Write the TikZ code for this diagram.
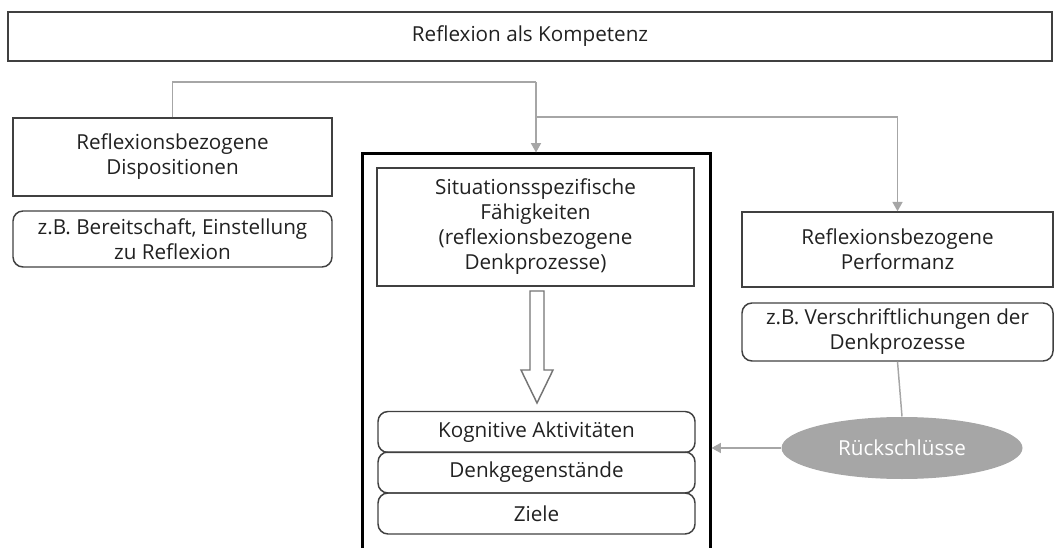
\documentclass[tikz,border=0pt]{standalone}
\usepackage{fontspec}
\setmainfont{Open Sans}
\usetikzlibrary{arrows.meta,shapes.geometric}

\definecolor{boxline}{RGB}{64,64,64}
\definecolor{connline}{RGB}{166,166,166}
\definecolor{txtgray}{RGB}{33,33,33}

\tikzset{every picture/.style={line width=0.75pt}}
\tikzset{
  box/.style={draw=boxline, line width=1.1pt, text=txtgray, align=center, inner sep=0pt, font=\fontsize{15.5}{18.75}\selectfont},
  roundbox/.style={box, rounded corners=7.5pt},
  conn/.style={draw=connline, line width=1.1pt},
  connarrow/.style={conn, -{Triangle[width=7.5pt,length=7pt]}, color=connline},
}

\begin{document}
\begin{tikzpicture}[x=0.75pt,y=0.75pt,yscale=-1,xscale=1]
\useasboundingbox (0,0) rectangle (1055,548);

%Shape: Rectangle [top]
\node [box, minimum width=783pt, minimum height=36.75pt] (komp) at (530,36.5) {Reflexion als Kompetenz};

%Shape: Rectangle [left]
\node [box, minimum width=239.25pt, minimum height=58.5pt] (dispo) at (172.5,157) {Reflexionsbezogene\\Dispositionen};
\node [roundbox, minimum width=239.25pt, minimum height=42pt] (dispoex) at (172.5,239) {z.B. Bereitschaft, Einstellung\\zu Reflexion};

%Shape: Rectangle [middle, thick frame]
\node [draw=black, line width=2.25pt, minimum width=261pt, minimum height=309pt] (frame) at (536,360) {};
\node [box, minimum width=237.75pt, minimum height=88.5pt] (situ) at (535.5,227) {Situationsspezifische\\Fähigkeiten\\(reflexionsbezogene\\Denkprozesse)};

%Shape: Block Arrow
\draw [draw=connline!70!black, line width=1.1pt, fill=white] (530,291) -- (544,291) -- (544,370) -- (553,370) -- (537,403) -- (521,370) -- (530,370) -- cycle ;

\node [roundbox, minimum width=237.75pt, minimum height=30.75pt] (kogn) at (536.5,432) {Kognitive Aktivitäten};
\node [roundbox, minimum width=237.75pt, minimum height=30.75pt] (denk) at (536.5,472.5) {Denkgegenstände};
\node [roundbox, minimum width=237.75pt, minimum height=30.75pt] (ziele) at (536.5,513.5) {Ziele};

%Shape: Rectangle [right]
\node [box, minimum width=233.25pt, minimum height=56.25pt] (perf) at (897.5,249.5) {Reflexionsbezogene\\Performanz};
\node [roundbox, minimum width=233.25pt, minimum height=43.5pt] (perfex) at (897.5,332) {z.B. Verschriftlichungen der\\Denkprozesse};

%Shape: Ellipse
\node [ellipse, fill=connline, text=white, inner sep=0pt, minimum width=180.75pt, minimum height=46.5pt, font=\fontsize{15.5}{18.75}\selectfont] (rueck) at (902,448) {Rückschlüsse};

%Straight Lines
\coordinate (turnA) at (frame.north |- 0,82);
\coordinate (turnB) at (frame.north |- 0,117);
\draw [conn] (dispo.north) |- (turnA);
\draw [connarrow] (turnA) -- (frame.north);
\draw [connarrow] (turnB) -| (perf.north);
\draw [conn] (perfex.south) -- (rueck.north);
\draw [connarrow] (rueck.west) -- (frame.east |- rueck.west);

\end{tikzpicture}
\end{document}
